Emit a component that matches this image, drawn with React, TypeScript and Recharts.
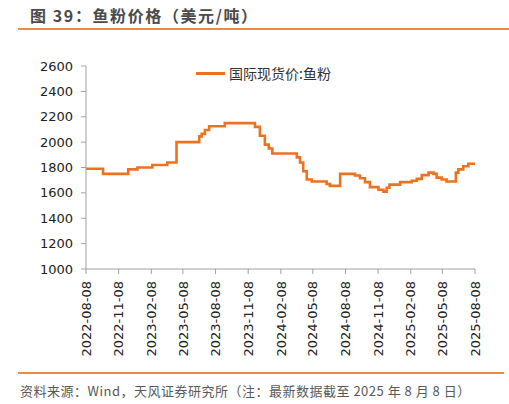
import React from 'react';
import { LineChart, Line, XAxis, YAxis } from 'recharts';

// change points of the weekly fish meal spot price (USD/t)
const priceDates = [
  '2022-08-08', '2022-09-25', '2022-12-05', '2022-12-31', '2023-02-11', '2023-03-25',
  '2023-04-20', '2023-06-23', '2023-06-30', '2023-07-09', '2023-07-21', '2023-09-03',
  '2023-11-27', '2023-12-11', '2023-12-25', '2024-01-05', '2024-01-15', '2024-03-24',
  '2024-04-02', '2024-04-11', '2024-04-21', '2024-05-05', '2024-06-16', '2024-06-25',
  '2024-07-24', '2024-09-04', '2024-09-18', '2024-10-02', '2024-10-16', '2024-11-09',
  '2024-11-23', '2024-12-02', '2024-12-10', '2025-01-09', '2025-02-11', '2025-02-25',
  '2025-03-11', '2025-03-30', '2025-04-13', '2025-04-22', '2025-05-06', '2025-05-20',
  '2025-06-15', '2025-06-22', '2025-07-06', '2025-07-20', '2025-08-08',
];
const priceValues = [
  1790, 1750, 1785, 1800, 1820, 1840,
  2000, 2045, 2065, 2095, 2125, 2150,
  2120, 2050, 1980, 1950, 1910, 1880,
  1840, 1770, 1705, 1690, 1670, 1655,
  1750, 1737, 1715, 1685, 1645, 1625,
  1610, 1640, 1665, 1685, 1695, 1710,
  1740, 1760, 1750, 1720, 1705, 1690,
  1760, 1785, 1810, 1830, 1830,
];

const tickDates = [
  '2022-08-08', '2022-11-08', '2023-02-08', '2023-05-08', '2023-08-08', '2023-11-08',
  '2024-02-08', '2024-05-08', '2024-08-08', '2024-11-08', '2025-02-08', '2025-05-08',
  '2025-08-08',
];
const yTicks = [1000, 1200, 1400, 1600, 1800, 2000, 2200, 2400, 2600];

const toTime = (s: string) => Date.parse(s + 'T00:00:00Z');

const chartData = priceDates.map((d, i) => ({ time: toTime(d), price: priceValues[i] }));
const xTicks = tickDates.map(toTime);

const ORANGE = '#EB7320';
const AXIS = '#A0A0A0';
const CJK = '"Noto Sans CJK SC", "Noto Sans", sans-serif';

function formatDate(t: number): string {
  const d = new Date(t);
  const mm = (d.getUTCMonth() + 1).toString().padStart(2, '0');
  const dd = d.getUTCDate().toString().padStart(2, '0');
  return `${d.getUTCFullYear()}-${mm}-${dd}`;
}

function DateTick({ x, y, payload }: { x: number; y: number; payload: { value: number } }) {
  const ty = y + 5;
  return (
    <text
      x={x}
      y={ty}
      transform={`rotate(-90, ${x}, ${ty})`}
      textAnchor="end"
      dy="0.36em"
      fill="#222"
      fontSize={13}
      fontFamily='"DejaVu Sans", sans-serif'
    >
      {formatDate(payload.value)}
    </text>
  );
}

export default function App() {
  return (
    <div
      style={{
        position: 'absolute',
        left: 0,
        top: 0,
        width: 509,
        height: 404,
        background: '#fff',
        fontFamily: CJK,
        overflow: 'hidden',
      }}
    >
      <div
        style={{
          position: 'absolute',
          left: 30,
          top: 4,
          fontSize: 16,
          fontWeight: 700,
          letterSpacing: 1.6,
          color: '#4a4a4a',
          lineHeight: '22px',
          whiteSpace: 'nowrap',
        }}
      >
        图 39：鱼粉价格（美元/吨）
      </div>
      <div style={{ position: 'absolute', left: 18, right: 0, top: 28, height: 2, background: '#F08A3A' }} />

      <LineChart
        width={509}
        height={404}
        data={chartData}
        margin={{ top: 66, right: 34, left: 26, bottom: 35 }}
      >
        <XAxis
          dataKey="time"
          type="number"
          scale="time"
          domain={[xTicks[0], xTicks[xTicks.length - 1]]}
          ticks={xTicks}
          interval={0}
          height={100}
          stroke={AXIS}
          tickSize={5}
          tick={DateTick as any}
        />
        <YAxis
          domain={[1000, 2600]}
          ticks={yTicks}
          interval={0}
          width={60}
          stroke={AXIS}
          tickSize={5}
          tickMargin={8}
          tick={{ fill: '#222', fontSize: 13, fontFamily: '"DejaVu Sans", sans-serif' }}
        />
        <Line
          dataKey="price"
          type="stepAfter"
          stroke={ORANGE}
          strokeWidth={2.6}
          dot={false}
          isAnimationActive={false}
        />
      </LineChart>

      <div
        style={{
          position: 'absolute',
          left: 196,
          top: 64,
          display: 'flex',
          alignItems: 'center',
          gap: 4,
          fontSize: 14,
          color: '#333',
          whiteSpace: 'nowrap',
        }}
      >
        <span style={{ display: 'inline-block', width: 29, height: 3, background: ORANGE }} />
        <span style={{ lineHeight: '18px' }}>国际现货价:鱼粉</span>
      </div>

      <div style={{ position: 'absolute', left: 18, right: 5, top: 372, height: 2, background: '#F08A3A' }} />
      <div
        style={{
          position: 'absolute',
          left: 20,
          top: 381,
          fontSize: 13,
          letterSpacing: 0.5,
          color: '#595959',
          lineHeight: '20px',
          whiteSpace: 'nowrap',
        }}
      >
        资料来源：Wind，天风证券研究所（注：最新数据截至 2025 年 8 月 8 日）
      </div>
    </div>
  );
}
